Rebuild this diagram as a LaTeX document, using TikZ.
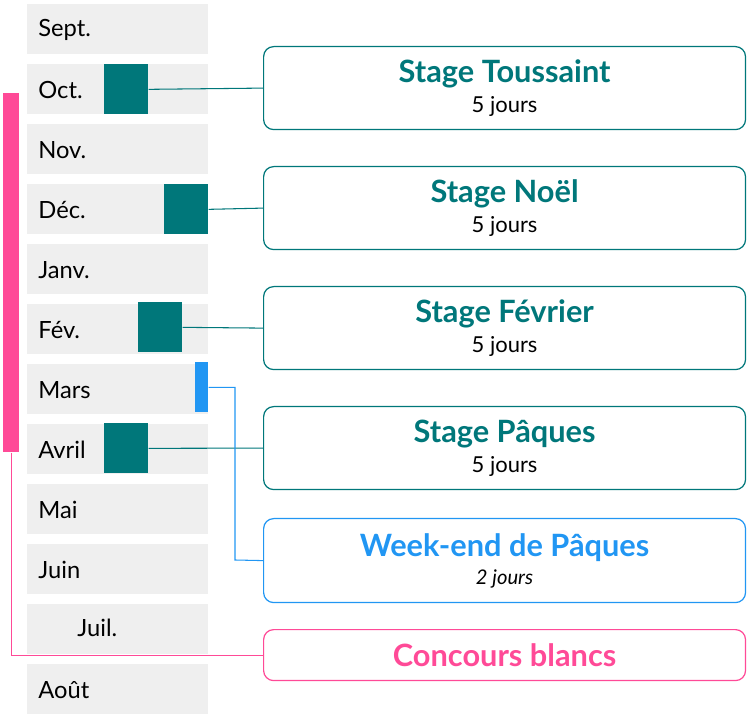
\documentclass[tikz,border=0pt]{standalone}
\usepackage{fontspec}
\setmainfont{Lato}
\usetikzlibrary{positioning}
\definecolor{teal2}{HTML}{00777A}
\definecolor{blue2}{HTML}{2196F3}
\definecolor{pink2}{HTML}{FF4A97}
\definecolor{grey2}{HTML}{EFEFEF}
\tikzset{
	month/.style={fill=grey2, minimum width=3.62cm, minimum height=1cm, inner sep=0pt, anchor=north west},
	block/.style={fill=teal2, minimum width=0.88cm, minimum height=1cm, inner sep=0pt, anchor=north west},
	infobox/.style={draw=#1, rounded corners=0.2cm, line width=0.7pt, minimum width=9.64cm, anchor=north west, align=center, inner sep=0pt},
	link/.style={draw=#1, line width=0.6pt}
}
\newcommand{\boxtitle}{\fontsize{17.5}{20}\selectfont\bfseries}
\newcommand{\boxsub}{\fontsize{12.5}{15}\selectfont\mdseries}
\begin{document}
\begin{tikzpicture}[x=0.02cm, y=-0.02cm]
\useasboundingbox (0,0) rectangle (750,715);
\foreach \m [count=\i from 0] in {Sept., Oct., Nov., D\'ec., Janv., F\'ev., Mars, Avril, Mai, Juin, , Ao\^ut} {
	\node[month] (m\i) at (27, 4+60*\i) {};
	\node[anchor=west, inner sep=0pt, font=\fontsize{13.5}{16}\selectfont] at (38, 30+60*\i) {\m};
	};
\node[anchor=west, inner sep=0pt, font=\fontsize{13.5}{16}\selectfont] at (77, 628) {Juil.};
% periodes
\node[block] (oct) at (104, 64) {};
\node[block] (dec) at (164, 184) {};
\node[block] (fev) at (138, 302) {};
\node[block] (avr) at (104, 423) {};
\node[fill=blue2, minimum width=0.26cm, minimum height=1cm, inner sep=0pt, anchor=north west] (mars) at (195, 362) {};
\node[fill=pink2, minimum width=0.32cm, minimum height=7.18cm, inner sep=0pt, anchor=north west] (conc) at (3, 93) {};
% encadres
\node[infobox=teal2, minimum height=1.66cm] (toussaint) at (263, 46) {\boxtitle\color{teal2}Stage Toussaint\\[4pt]\boxsub 5 jours};
\node[infobox=teal2, minimum height=1.66cm] (noel) at (263, 166) {\boxtitle\color{teal2}Stage Noël\\[4pt]\boxsub 5 jours};
\node[infobox=teal2, minimum height=1.66cm] (fevrier) at (263, 286) {\boxtitle\color{teal2}Stage Février\\[4pt]\boxsub 5 jours};
\node[infobox=teal2, minimum height=1.66cm] (paques) at (263, 406) {\boxtitle\color{teal2}Stage Pâques\\[4pt]\boxsub 5 jours};
\node[infobox=blue2, minimum height=1.68cm] (weekend) at (263, 518) {\boxtitle\color{blue2}Week-end de Pâques\\[4pt]\fontsize{11.5}{14}\selectfont\itshape\mdseries 2 jours};
\node[infobox=pink2, minimum height=1.02cm] (blancs) at (263, 629) {\boxtitle\color{pink2}Concours blancs};
% liens
\draw[link=teal2] (oct.east) -- (toussaint.west);
\draw[link=teal2] (dec.east) -- (noel.west);
\draw[link=teal2] (fev.east) -- (fevrier.west);
\draw[link=teal2] (avr.east) -- (paques.west);
\draw[link=blue2] (mars.east) -| (235, 560) -- (weekend.west);
\draw[link=pink2] (conc.south) |- (blancs.west);
\end{tikzpicture}
\end{document}
